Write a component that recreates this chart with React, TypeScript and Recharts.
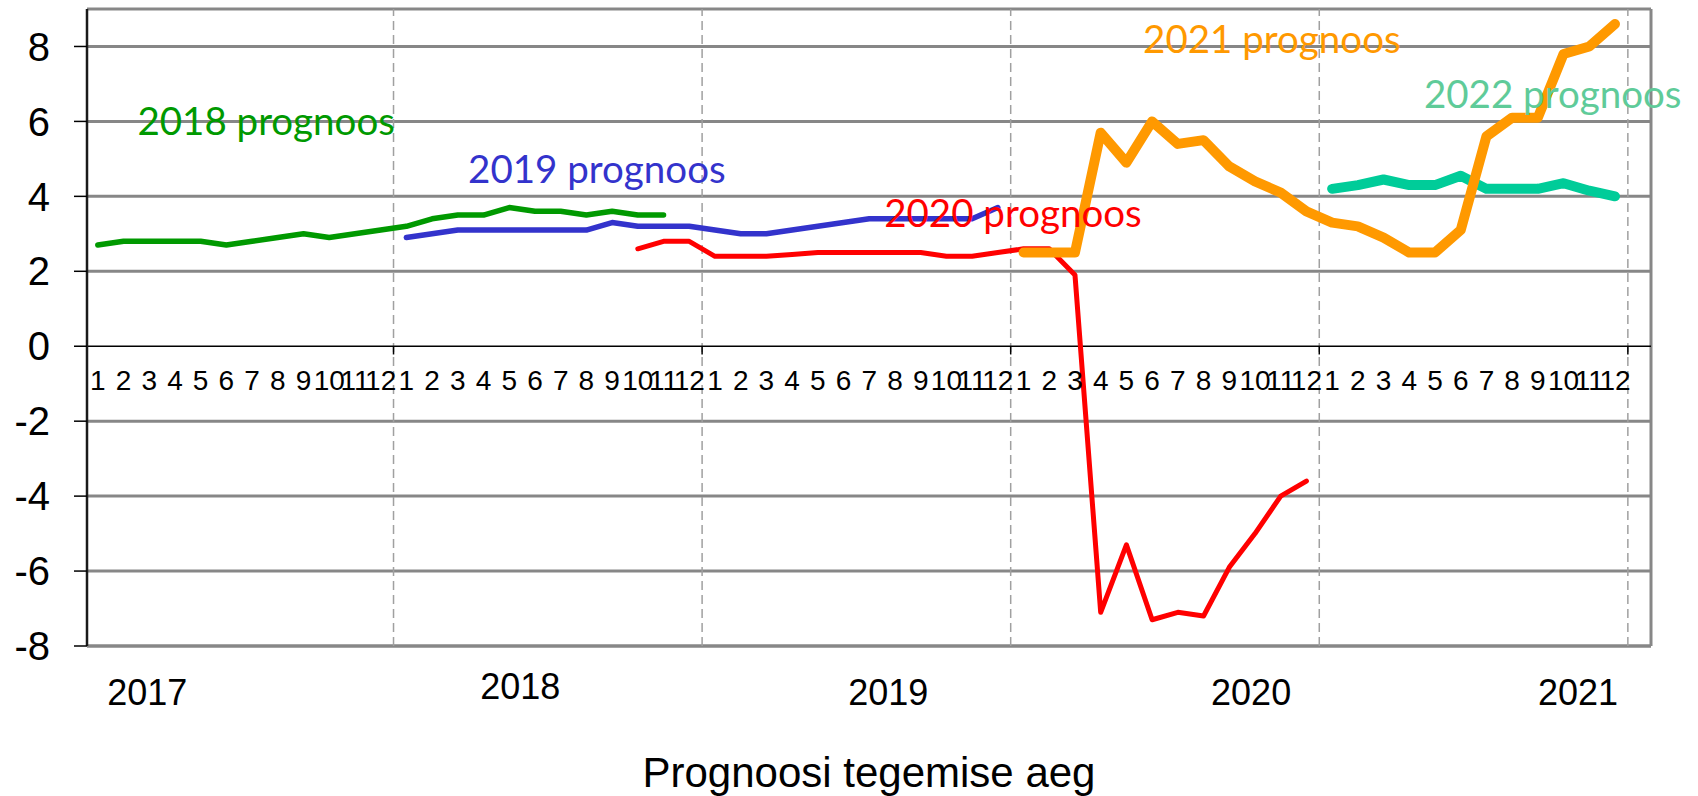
import React from "react";
import {
  LineChart,
  Line,
  XAxis,
  YAxis,
  ReferenceLine,
  ReferenceDot,
} from "recharts";

// forecast series, monthly values by time the forecast was made (Jan 2017 = index 0)
const FORECAST_2018 = [2.7, 2.8, 2.8, 2.8, 2.8, 2.7, 2.8, 2.9, 3.0, 2.9, 3.0, 3.1, 3.2, 3.4, 3.5, 3.5, 3.7, 3.6, 3.6, 3.5, 3.6, 3.5, 3.5];
const FORECAST_2019 = [2.9, 3.0, 3.1, 3.1, 3.1, 3.1, 3.1, 3.1, 3.3, 3.2, 3.2, 3.2, 3.1, 3.0, 3.0, 3.1, 3.2, 3.3, 3.4, 3.4, 3.4, 3.4, 3.4, 3.7];
const FORECAST_2020 = [2.6, 2.8, 2.8, 2.4, 2.4, 2.4, 2.45, 2.5, 2.5, 2.5, 2.5, 2.5, 2.4, 2.4, 2.5, 2.6, 2.6, 1.9, -7.1, -5.3, -7.3, -7.1, -7.2, -5.9, -5.0, -4.0, -3.6];
const FORECAST_2021 = [2.5, 2.5, 2.5, 5.7, 4.9, 6.0, 5.4, 5.5, 4.8, 4.4, 4.1, 3.6, 3.3, 3.2, 2.9, 2.5, 2.5, 3.1, 5.6, 6.1, 6.1, 7.8, 8.0, 8.6];
const FORECAST_2022 = [4.2, 4.3, 4.45, 4.3, 4.3, 4.55, 4.2, 4.2, 4.2, 4.35, 4.15, 4.0];

// first month index of each series
const START_2018 = 0;
const START_2019 = 12;
const START_2020 = 21;
const START_2021 = 36;
const START_2022 = 48;

const MONTH_NAMES = ["1", "2", "3", "4", "5", "6", "7", "8", "9", "10", "11", "12"];
const YEARS = ["2017", "2018", "2019", "2020", "2021"];
const Y_TICKS = [-8, -6, -4, -2, 0, 2, 4, 6, 8];
const GRID_VALUES = [-6, -4, -2, 2, 4, 6, 8];

const N_MONTHS = MONTH_NAMES.length * YEARS.length;
const X_DOMAIN = [-0.42, 60.4];
const Y_DOMAIN = [-8, 9];
const YEAR_BOUNDS = [11.5, 23.5, 35.5, 47.5, 59.5];
// where the year captions sit, in month units
const YEAR_LABEL_POS = [1.92, 16.43, 30.74, 44.85, 57.56];
const YEAR_LABEL_BASE = [705, 699, 705, 705, 705];

const at = (arr: number[], start: number, i: number) =>
  i >= start && i < start + arr.length ? arr[i - start] : null;

const data = Array.from({ length: N_MONTHS }, (_, i) => ({
  m: i,
  f2018: at(FORECAST_2018, START_2018, i),
  f2019: at(FORECAST_2019, START_2019, i),
  f2020: at(FORECAST_2020, START_2020, i),
  f2021: at(FORECAST_2021, START_2021, i),
  f2022: at(FORECAST_2022, START_2022, i),
}));
const MONTH_TICKS = data.map((d) => d.m);

const NOTES = [
  { text: "2018 prognoos", x: 1.54, y: 5.64, color: "#009900" },
  { text: "2019 prognoos", x: 14.4, y: 4.36, color: "#3333cc" },
  { text: "2020 prognoos", x: 30.58, y: 3.19, color: "#ff0000" },
  { text: "2021 prognoos", x: 40.65, y: 7.83, color: "#ff9900" },
  { text: "2022 prognoos", x: 51.57, y: 6.36, color: "#5fcb99" },
];

const ARIAL = "'Liberation Sans', Arial, sans-serif";
const GRID = "#878787";

const MonthTick = (props: any) => (
  <text x={props.x} y={390} textAnchor="middle" fontSize={28} fontFamily={ARIAL} fill="#000">
    {MONTH_NAMES[props.payload.value % 12]}
  </text>
);

const YearTick = (props: any) => {
  const k = YEAR_LABEL_POS.indexOf(props.payload.value);
  return (
    <text x={props.x} y={YEAR_LABEL_BASE[k]} textAnchor="middle" fontSize={36} fontFamily={ARIAL} fill="#000">
      {YEARS[k]}
    </text>
  );
};

const lineProps = {
  xAxisId: "m",
  dot: false,
  isAnimationActive: false,
  strokeLinejoin: "round" as const,
  strokeLinecap: "round" as const,
  connectNulls: false,
};

export default function App() {
  return (
    <div style={{ position: "absolute", left: 0, top: 0, width: 1698, height: 796, background: "#fff" }}>
      <LineChart width={1698} height={796} data={data} margin={{ top: 9, right: 47, bottom: 0, left: 0 }}>
        <XAxis
          xAxisId="m"
          dataKey="m"
          type="number"
          domain={X_DOMAIN}
          allowDataOverflow
          ticks={MONTH_TICKS}
          interval={0}
          tick={MonthTick}
          axisLine={false}
          tickLine={false}
          height={75}
        />
        <XAxis
          xAxisId="yr"
          dataKey="m"
          type="number"
          domain={X_DOMAIN}
          allowDataOverflow
          ticks={YEAR_LABEL_POS}
          interval={0}
          tick={YearTick}
          axisLine={false}
          tickLine={false}
          height={75}
        />
        <YAxis
          domain={Y_DOMAIN}
          allowDataOverflow
          ticks={Y_TICKS}
          interval={0}
          width={87}
          tick={{ fontSize: 40, fill: "#000", fontFamily: ARIAL }}
          tickLine={{ stroke: "#000", strokeWidth: 1.5 }}
          tickSize={13}
          tickMargin={24}
          axisLine={{ stroke: "#1a1a1a", strokeWidth: 2.5 }}
        />

        {GRID_VALUES.map((v) => (
          <ReferenceLine key={v} xAxisId="m" y={v} stroke={GRID} strokeWidth={3} />
        ))}
        <ReferenceLine xAxisId="m" y={9} stroke={GRID} strokeWidth={3} />
        <ReferenceLine xAxisId="m" y={-8} stroke={GRID} strokeWidth={3.5} />
        <ReferenceLine xAxisId="m" x={X_DOMAIN[1]} stroke={GRID} strokeWidth={3} />
        {YEAR_BOUNDS.map((b) => (
          <ReferenceLine key={b} xAxisId="m" x={b} stroke="#a0a0a0" strokeWidth={1.5} strokeDasharray="9 5" />
        ))}
        <ReferenceLine xAxisId="m" y={0} stroke="#000" strokeWidth={1.5} />
        {YEAR_BOUNDS.map((b) => (
          <ReferenceLine
            key={"t" + b}
            xAxisId="m"
            segment={[
              { x: b, y: 0 },
              { x: b, y: -0.22 },
            ]}
            stroke="#000"
            strokeWidth={1.5}
          />
        ))}

        <Line {...lineProps} dataKey="f2018" stroke="#009900" strokeWidth={5.5} />
        <Line {...lineProps} dataKey="f2019" stroke="#3333cc" strokeWidth={5.5} />
        <Line {...lineProps} dataKey="f2020" stroke="#ff0000" strokeWidth={5} />
        <Line {...lineProps} dataKey="f2022" stroke="#00cc99" strokeWidth={10} />
        <Line {...lineProps} dataKey="f2021" stroke="#ff9900" strokeWidth={10} />

        {NOTES.map((n) => (
          <ReferenceDot
            key={n.text}
            xAxisId="m"
            x={n.x}
            y={n.y}
            r={0}
            shape={(p: any) => (
              <text x={p.cx} y={p.cy} fontSize={38.5} fontFamily="Lato, 'Open Sans', sans-serif" fill={n.color}>
                {n.text}
              </text>
            )}
          />
        ))}
      </LineChart>
      <div
        style={{
          position: "absolute",
          left: 87,
          width: 1564,
          top: 749,
          textAlign: "center",
          fontSize: 42,
          lineHeight: "48px",
          fontFamily: ARIAL,
          color: "#000",
        }}
      >
        Prognoosi tegemise aeg
      </div>
    </div>
  );
}
